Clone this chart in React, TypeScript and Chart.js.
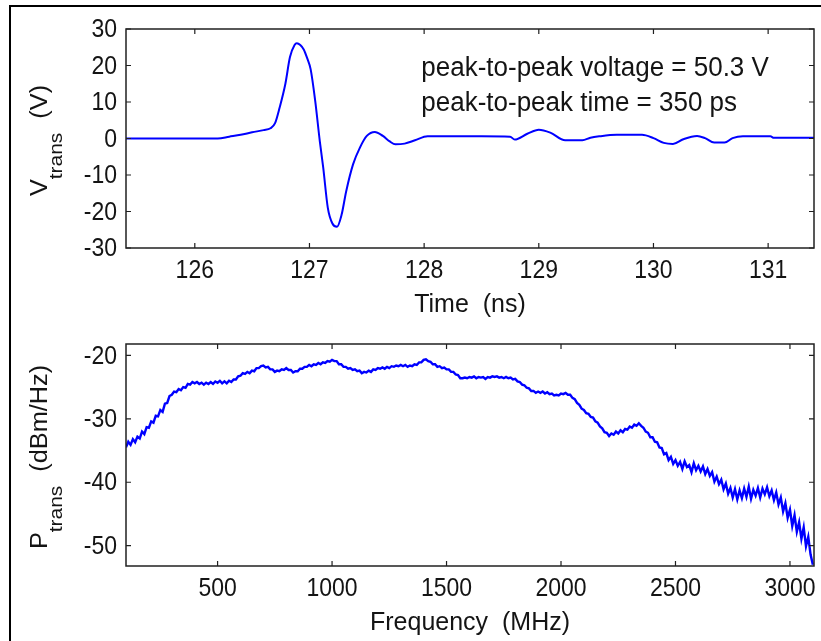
import React, { useEffect, useRef } from 'react';
import { Chart, registerables } from 'chart.js';

Chart.register(...registerables);

// ---------- Data: transient voltage (top panel) ----------
const timeNs = [
  125.4, 126.2, 126.3, 126.4, 126.5, 126.6, 126.66, 126.7, 126.74, 126.79,
  126.83, 126.87, 126.89, 126.92, 126.95, 126.98, 127.01, 127.05, 127.09, 127.12,
  127.16, 127.2, 127.24, 127.28, 127.32, 127.38, 127.44, 127.5, 127.57, 127.64,
  127.7, 127.75, 127.83, 127.92, 128.03, 128.2, 128.5, 128.75, 128.79, 128.9,
  129.0, 129.1, 129.23, 129.38, 129.45, 129.53, 129.68, 129.9, 130.0, 130.09,
  130.17, 130.26, 130.38, 130.45, 130.53, 130.62, 130.69, 130.78, 131.02, 131.05,
  131.4,
];
const voltageV = [
  0, 0, 0.5, 1.0, 1.7, 2.3, 2.8, 4.2, 8.5, 15.0,
  22.3, 25.6, 26.1, 25.6, 24.4, 22.0, 19.0, 10.3, -0.7, -8.0,
  -19.0, -23.3, -24.2, -20.9, -14.5, -7.1, -2.5, 0.7, 1.8, 0.7,
  -0.8, -1.6, -1.4, -0.5, 0.6, 0.6, 0.6, 0.5, -0.3, 1.3,
  2.4, 1.6, -0.5, -0.5, 0.2, 0.6, 1.0, 1.0, 0.1, -1.2,
  -1.5, -0.2, 0.7, 0.1, -1.1, -1.1, 0.1, 0.6, 0.6, 0.2,
  0.2,
];

// ---------- Data: transmitted power spectral density (bottom panel) ----------
const freqStartMHz = 100;
const freqStepMHz = 10;
const powerDbmHz = [
  -34.5, -33.6, -34.1, -33.2, -33.7, -32.8, -33.1, -32.0, -32.4, -31.3,
  -31.4, -30.4, -30.6, -29.5, -29.6, -28.6, -28.9, -27.6, -27.5, -26.4,
  -26.2, -25.7, -25.8, -25.3, -25.5, -25.0, -25.1, -24.5, -24.6, -24.2,
  -24.4, -24.2, -24.5, -24.3, -24.6, -24.3, -24.5, -24.2, -24.5, -24.1,
  -24.3, -24.0, -24.4, -24.1, -24.4, -24.0, -24.2, -23.8, -23.8, -23.3,
  -23.2, -22.8, -22.9, -22.6, -22.8, -22.4, -22.5, -22.0, -22.0, -21.7,
  -21.6, -21.9, -21.8, -22.2, -22.2, -22.6, -22.4, -22.5, -22.2, -22.3,
  -22.0, -22.3, -22.3, -22.7, -22.5, -22.5, -22.1, -22.1, -21.8, -21.8,
  -21.5, -21.7, -21.4, -21.5, -21.2, -21.4, -21.1, -21.2, -20.9, -21.0,
  -20.7, -20.9, -20.9, -21.4, -21.4, -21.8, -21.8, -22.1, -22.0, -22.3,
  -22.2, -22.5, -22.4, -22.8, -22.6, -22.7, -22.4, -22.6, -22.2, -22.3,
  -22.0, -22.1, -21.9, -22.1, -21.8, -22.0, -21.7, -21.8, -21.6, -21.7,
  -21.5, -21.7, -21.5, -21.8, -21.6, -21.7, -21.4, -21.5, -21.1, -21.1,
  -20.7, -20.6, -20.9, -21.0, -21.4, -21.4, -21.8, -21.7, -22.0, -21.9,
  -22.2, -22.2, -22.6, -22.6, -23.0, -23.1, -23.6, -23.6, -23.5, -23.6,
  -23.4, -23.5, -23.3, -23.6, -23.4, -23.5, -23.4, -23.7, -23.4, -23.5,
  -23.3, -23.4, -23.3, -23.5, -23.4, -23.6, -23.4, -23.6, -23.5, -23.8,
  -23.7, -24.1, -24.2, -24.6, -24.7, -25.1, -25.2, -25.6, -25.6, -25.9,
  -25.7, -25.9, -25.7, -26.0, -25.8, -26.1, -26.0, -26.3, -26.2, -26.3,
  -26.0, -26.1, -25.9, -26.2, -26.2, -26.7, -26.9, -27.5, -27.8, -28.4,
  -28.6, -29.1, -29.2, -29.7, -29.8, -30.4, -30.6, -31.2, -31.5, -32.1,
  -32.2, -32.7, -32.3, -32.5, -32.0, -32.3, -31.8, -32.1, -31.6, -31.7,
  -31.2, -31.4, -30.9, -31.1, -30.7, -31.1, -31.4, -32.0, -32.2, -32.9,
  -32.9, -33.6, -33.7, -34.5, -34.6, -35.6, -35.4, -36.5, -36.0, -37.1,
  -36.5, -37.4, -36.8, -37.9, -36.7, -37.6, -37.3, -38.4, -37.0, -38.1,
  -37.4, -38.3, -37.5, -38.7, -37.9, -39.0, -38.4, -39.9, -39.1, -40.3,
  -39.6, -41.1, -40.2, -41.8, -40.9, -42.4, -41.1, -42.7, -41.3, -42.5,
  -41.0, -42.3, -40.7, -42.6, -41.2, -42.1, -40.9, -42.4, -41.0, -41.9,
  -40.8, -42.2, -41.3, -42.8, -41.6, -43.5, -42.4, -44.6, -43.3, -45.6,
  -44.3, -46.9, -45.2, -47.8, -46.3, -48.9, -47.1, -50.1, -48.6, -51.4,
  -53.0,
];

// ---------- Axis ticks and labels ----------
const timeTicks = [126, 127, 128, 129, 130, 131];
const voltTicks = [-30, -20, -10, 0, 10, 20, 30];
const freqTicks = [500, 1000, 1500, 2000, 2500, 3000];
const powerTicks = [-50, -40, -30, -20];
const topXTitle = 'Time  (ns)';
const bottomXTitle = 'Frequency  (MHz)';
const topYTitle = [{ text: 'V', sub: false }, { text: 'trans', sub: true }, { text: '  (V)', sub: false }];
const bottomYTitle = [{ text: 'P', sub: false }, { text: 'trans', sub: true }, { text: '  (dBm/Hz)', sub: false }];
const annotationLines = ['peak-to-peak voltage = 50.3 V', 'peak-to-peak time = 350 ps'];

const W = 821;
const H = 641;
const FONT = '"Liberation Sans", Arial, Helvetica, sans-serif';
const TEXT_COLOR = '#141414';
const AXIS_COLOR = '#202020';
const LINE_COLOR = '#0000ff';

function drawText(ctx: CanvasRenderingContext2D, s: string, x: number, y: number, size: number,
  align: CanvasTextAlign, baseline: CanvasTextBaseline, sy = 1) {
  ctx.save();
  ctx.translate(x, y);
  ctx.scale(1, sy);
  ctx.font = `${size}px ${FONT}`;
  ctx.fillStyle = TEXT_COLOR;
  ctx.textAlign = align;
  ctx.textBaseline = baseline;
  ctx.fillText(s, 0, 0);
  ctx.restore();
}

function drawRotatedTitle(ctx: CanvasRenderingContext2D, parts: { text: string; sub: boolean }[], bx: number, cy: number) {
  const mainSize = 23;
  const subSize = 19;
  const sx = 1.1;
  ctx.save();
  ctx.translate(bx, cy);
  ctx.rotate(-Math.PI / 2);
  ctx.scale(sx, 1);
  ctx.fillStyle = TEXT_COLOR;
  ctx.textAlign = 'left';
  ctx.textBaseline = 'alphabetic';
  const widths = parts.map((p) => {
    ctx.font = `${p.sub ? subSize : mainSize}px ${FONT}`;
    return ctx.measureText(p.text).width;
  });
  const total = widths.reduce((a, b) => a + b, 0);
  let x = -total / 2;
  parts.forEach((p, i) => {
    ctx.font = `${p.sub ? subSize : mainSize}px ${FONT}`;
    ctx.fillText(p.text, x, p.sub ? 15 : 0);
    x += widths[i];
  });
  ctx.restore();
}

type AxesCfg = {
  xTicks: number[];
  yTicks: number[];
  xTitle: string;
  yTitle: { text: string; sub: boolean }[];
  annotation?: { lines: string[]; x: number; y: number[] };
};

function makeAxesPlugin(cfg: AxesCfg) {
  return {
    id: 'matlabAxes',
    afterDraw(chart: any) {
      const ctx: CanvasRenderingContext2D = chart.ctx;
      const a = chart.chartArea;
      const xs = chart.scales.x;
      const ys = chart.scales.y;
      ctx.save();
      // box
      ctx.strokeStyle = AXIS_COLOR;
      ctx.lineWidth = 1.5;
      ctx.strokeRect(a.left, a.top, a.right - a.left, a.bottom - a.top);
      // inward tick marks
      const tl = 5;
      ctx.lineWidth = 1.2;
      ctx.beginPath();
      cfg.xTicks.forEach((v) => {
        const px = xs.getPixelForValue(v);
        ctx.moveTo(px, a.bottom);
        ctx.lineTo(px, a.bottom - tl);
        ctx.moveTo(px, a.top);
        ctx.lineTo(px, a.top + tl);
      });
      cfg.yTicks.forEach((v) => {
        const py = ys.getPixelForValue(v);
        ctx.moveTo(a.left, py);
        ctx.lineTo(a.left + tl, py);
        ctx.moveTo(a.right, py);
        ctx.lineTo(a.right - tl, py);
      });
      ctx.stroke();
      // tick labels
      cfg.xTicks.forEach((v) => {
        drawText(ctx, String(v), xs.getPixelForValue(v), a.bottom + 30, 23, 'center', 'alphabetic', 1.12);
      });
      cfg.yTicks.forEach((v) => {
        drawText(ctx, String(v), a.left - 9, ys.getPixelForValue(v) + 1, 23, 'right', 'middle', 1.12);
      });
      // x title
      drawText(ctx, cfg.xTitle, (a.left + a.right) / 2, a.bottom + 64, 25, 'center', 'alphabetic', 1.04);
      // y title
      drawRotatedTitle(ctx, cfg.yTitle, 46.5, (a.top + a.bottom) / 2 + 2);
      // annotation
      if (cfg.annotation) {
        const ann = cfg.annotation;
        ann.lines.forEach((line, i) => {
          drawText(ctx, line, xs.getPixelForValue(ann.x), ys.getPixelForValue(ann.y[i]), 26, 'left', 'alphabetic', 1.06);
        });
      }
      ctx.restore();
    },
  };
}

function makeChart(canvas: HTMLCanvasElement, points: { x: number; y: number }[], opts: {
  padding: { left: number; top: number; right: number; bottom: number };
  xMin: number; xMax: number; yMin: number; yMax: number; smooth: boolean; width: number; cfg: AxesCfg;
}) {
  return new Chart(canvas, {
    type: 'line',
    data: {
      datasets: [{
        data: points,
        borderColor: LINE_COLOR,
        borderWidth: opts.width,
        pointRadius: 0,
        fill: false,
        tension: 0,
        cubicInterpolationMode: opts.smooth ? 'monotone' : 'default',
      }],
    },
    options: {
      responsive: false,
      animation: false,
      devicePixelRatio: 1,
      events: [],
      layout: { padding: opts.padding },
      plugins: { legend: { display: false }, tooltip: { enabled: false }, title: { display: false } },
      scales: {
        x: { type: 'linear', min: opts.xMin, max: opts.xMax, display: false },
        y: { type: 'linear', min: opts.yMin, max: opts.yMax, display: false },
      },
    },
    plugins: [makeAxesPlugin(opts.cfg)],
  } as any);
}

export default function App() {
  const topRef = useRef<HTMLCanvasElement>(null);
  const botRef = useRef<HTMLCanvasElement>(null);

  useEffect(() => {
    const topPts = timeNs.map((t, i) => ({ x: t, y: voltageV[i] }));
    const botPts = powerDbmHz.map((p, i) => ({ x: freqStartMHz + i * freqStepMHz, y: p }));
    const c1 = makeChart(topRef.current!, topPts, {
      padding: { left: 126, top: 29, right: W - 814, bottom: H - 248 },
      xMin: 125.4, xMax: 131.4, yMin: -30, yMax: 30, smooth: true, width: 2,
      cfg: {
        xTicks: timeTicks, yTicks: voltTicks, xTitle: topXTitle, yTitle: topYTitle,
        annotation: { lines: annotationLines, x: 127.975, y: [17.0, 7.5] },
      },
    });
    const c2 = makeChart(botRef.current!, botPts, {
      padding: { left: 126, top: 344, right: W - 814, bottom: H - 566 },
      xMin: 100, xMax: 3105, yMin: -53.2, yMax: -18.2, smooth: false, width: 2.4,
      cfg: { xTicks: freqTicks, yTicks: powerTicks, xTitle: bottomXTitle, yTitle: bottomYTitle },
    });
    return () => {
      c1.destroy();
      c2.destroy();
    };
  }, []);

  return (
    <div style={{ position: 'fixed', left: 0, top: 0, width: W, height: H, background: '#fff', overflow: 'hidden' }}>
      <div style={{ position: 'absolute', left: 9, top: 5, width: W, height: H, borderLeft: '2px solid #000', borderTop: '2px solid #000' }} />
      <canvas ref={topRef} width={W} height={H} style={{ position: 'absolute', left: 0, top: 0 }} />
      <canvas ref={botRef} width={W} height={H} style={{ position: 'absolute', left: 0, top: 0 }} />
    </div>
  );
}
